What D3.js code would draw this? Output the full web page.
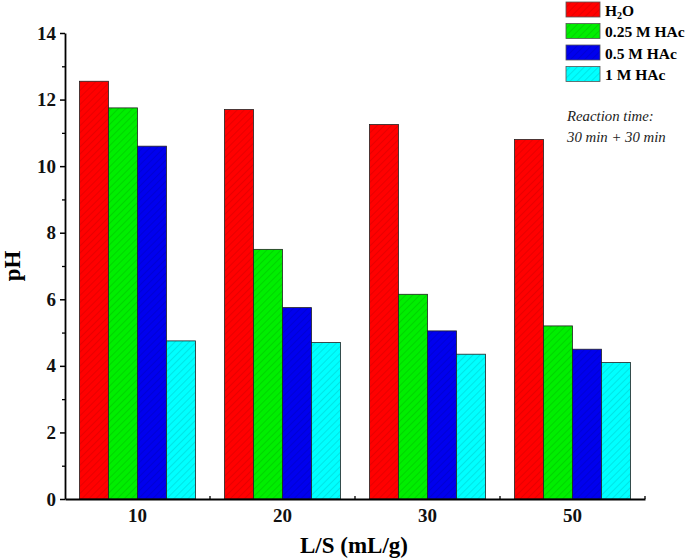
<!DOCTYPE html>
<html>
<head>
<meta charset="utf-8">
<script src="https://cdn.jsdelivr.net/npm/d3@7"></script>
<style>
body { margin: 0; background: #fff; }
svg text { font-family: "Liberation Serif", "Times New Roman", "DejaVu Serif", serif !important; }
</style>
</head>
<body>
<svg id="chart" width="685" height="560" font-family="Liberation Serif, Times New Roman, serif"></svg>
<script>
const categories = ["10", "20", "30", "50"];
const seriesNames = ["H2O", "0.25 M HAc", "0.5 M HAc", "1 M HAc"];
const h2o = [12.55, 11.7, 11.25, 10.8];
const hac025 = [11.75, 7.5, 6.15, 5.2];
const hac05 = [10.6, 5.75, 5.05, 4.5];
const hac1 = [4.75, 4.7, 4.35, 4.1];
const yTicks = [0, 2, 4, 6, 8, 10, 12, 14];
const colors = ["#ff0000", "#00ee00", "#0000ee", "#00ffff"];
const hatchColors = ["#d40000", "#00c000", "#0000c0", "#00d0d0"];

const series = [h2o, hac025, hac05, hac1];
const svg = d3.select("#chart");
const m = { left: 65, right: 40, top: 33, bottom: 61 };
const W = 685, H = 560;
const FF = "Liberation Serif, Times New Roman, serif";

const x = d3.scaleBand().domain(categories).range([m.left, W - m.right]).paddingInner(0).paddingOuter(0);
const xs = d3.scaleBand().domain(d3.range(series.length)).range([0, x.bandwidth()]).paddingOuter(0.5).paddingInner(0);
const y = d3.scaleLinear().domain([0, 14]).range([H - m.bottom, m.top]);

// hatch patterns
const defs = svg.append("defs");
colors.forEach((c, i) => {
  const p = defs.append("pattern").attr("id", "hatch" + i)
    .attr("patternUnits", "userSpaceOnUse").attr("width", 5).attr("height", 5)
    .attr("patternTransform", "rotate(45)");
  p.append("rect").attr("width", 5).attr("height", 5).attr("fill", c);
  p.append("line").attr("x1", 0).attr("y1", 0).attr("x2", 0).attr("y2", 5)
    .attr("stroke", hatchColors[i]).attr("stroke-width", 1.1);
});

// bars
series.forEach((vals, si) => {
  svg.append("g").selectAll("rect").data(vals).join("rect")
    .attr("x", (d, i) => x(categories[i]) + xs(si))
    .attr("y", d => y(d))
    .attr("width", xs.bandwidth())
    .attr("height", d => y(0) - y(d))
    .attr("fill", "url(#hatch" + si + ")")
    .attr("stroke", "#222").attr("stroke-width", 0.8);
});

// y axis
const yAxis = svg.append("g").attr("transform", `translate(${m.left},0)`)
  .call(d3.axisLeft(y).tickValues(yTicks).tickSize(5).tickPadding(4).tickSizeOuter(0));
yAxis.attr("font-family", FF);
yAxis.select(".domain").attr("stroke", "#000").attr("stroke-width", 1.8);
yAxis.selectAll(".tick line").attr("stroke-width", 1.5);
yAxis.selectAll("text").attr("font-size", 19).attr("font-weight", "bold").attr("fill", "#111");
// minor y ticks
svg.append("g").attr("transform", `translate(${m.left},0)`)
  .call(d3.axisLeft(y).tickValues(d3.range(1, 14, 2)).tickSize(3).tickFormat(""))
  .call(g => g.select(".domain").remove())
  .selectAll("line").attr("stroke-width", 1.3);

// x axis
const xAxis = svg.append("g").attr("transform", `translate(0,${y(0)})`)
  .call(d3.axisBottom(x).tickSize(0).tickPadding(10).tickSizeOuter(0));
xAxis.attr("font-family", FF);
xAxis.select(".domain").attr("stroke", "#000").attr("stroke-width", 1.8);
xAxis.selectAll("text").attr("font-size", 19).attr("font-weight", "bold").attr("fill", "#111");
// boundary ticks (pointing up)
const bounds = categories.slice(1).map(c => x(c)).concat([x.range()[1]]);
svg.append("g").selectAll("line").data(bounds).join("line")
  .attr("x1", d => d).attr("x2", d => d)
  .attr("y1", y(0)).attr("y2", y(0) - 3)
  .attr("stroke", "#000").attr("stroke-width", 1.3);

// axis titles
svg.append("text").attr("transform", `translate(20,${(m.top + y(0)) / 2}) rotate(-90)`)
  .attr("text-anchor", "middle").attr("font-size", 23).attr("font-weight", "bold").text("pH");
svg.append("text").attr("x", 354).attr("y", 553)
  .attr("text-anchor", "middle").attr("font-size", 23).attr("font-weight", "bold").text("L/S (mL/g)");

// legend
const lg = svg.append("g");
seriesNames.forEach((n, i) => {
  const yy = 2 + i * 21.5;
  lg.append("rect").attr("x", 566).attr("y", yy).attr("width", 34).attr("height", 15)
    .attr("fill", "url(#hatch" + i + ")").attr("stroke", "#555").attr("stroke-width", 0.8);
  const t = lg.append("text").attr("x", 605).attr("y", yy + 13.5).attr("font-size", 15.5).attr("font-weight", "bold");
  if (n === "H2O") {
    t.append("tspan").text("H");
    t.append("tspan").attr("font-size", 10).attr("dy", 3).text("2");
    t.append("tspan").attr("dy", -3).text("O");
  } else {
    t.text(n);
  }
});
svg.append("text").attr("x", 567).attr("y", 121).attr("font-size", 14.8).attr("font-style", "italic")
  .attr("fill", "#222").text("Reaction time:");
svg.append("text").attr("x", 567).attr("y", 142).attr("font-size", 14.8).attr("font-style", "italic")
  .attr("fill", "#222").text("30 min + 30 min");
</script>
</body>
</html>
